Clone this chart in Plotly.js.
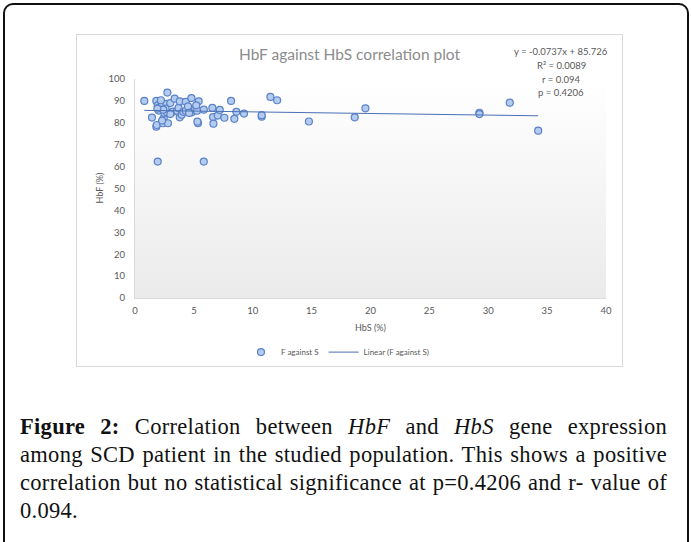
<!DOCTYPE html>
<html>
<head>
<meta charset="utf-8">
<script src="https://cdn.plot.ly/plotly-3.0.1.min.js"></script>
<style>
  html, body { margin: 0; padding: 0; background: #ffffff; width: 691px; height: 542px; overflow: hidden; }
  #frame { position: absolute; left: 3px; top: 3px; width: 682px; height: 600px; border: 2px solid #111; border-radius: 10px; }
  #box { position: absolute; left: 76px; top: 34px; width: 547px; height: 333px; border: 1px solid #d9d9d9; background: #fff; box-sizing: border-box; }
  #chart { position: absolute; left: 0; top: 0; width: 545px; height: 331px; }
  #caption { position: absolute; left: 20px; top: 413px; width: 647px; font-family: "Liberation Serif", "DejaVu Serif", serif; font-size: 22.5px; letter-spacing: 0.3px; line-height: 28px; color: #111; }
  #caption .j { text-align: justify; text-align-last: justify; white-space: nowrap; }
</style>
</head>
<body>
<div id="frame"></div>
<div id="box"><div id="chart"></div></div>
<div id="caption">
  <div class="j"><b>Figure 2:</b> Correlation between <i>HbF</i> and <i>HbS</i> gene expression</div>
  <div class="j">among SCD patient in the studied population. This shows a positive</div>
  <div class="j">correlation but no statistical significance at p=0.4206 and r- value of</div>
  <div>0.094.</div>
</div>
<script>
// HbS (%) values of each patient
const hbs = [0.79, 1.44, 1.81, 1.85, 1.93, 1.81, 1.93, 2.01, 2.05, 2.29,
             2.38, 2.44, 2.50, 2.66, 2.72, 2.75, 2.80, 2.60, 2.20, 3.00,
             3.23, 3.37, 3.57, 3.70, 3.80, 3.80, 3.97, 4.10, 4.31, 4.31,
             4.50, 4.79, 4.82, 5.10, 5.27, 5.35, 5.30, 5.41, 5.20, 5.84,
             5.84, 6.57, 6.63, 6.66, 7.03, 7.20, 7.59, 8.16, 8.44, 8.61,
             9.26, 10.76, 10.76, 11.50, 12.07, 14.77, 18.66, 19.57, 29.25, 29.25,
             31.83, 34.24, 3.00, 2.40, 4.60, 1.90, 2.30];
// HbF (%) values of each patient
const hbf = [90.0, 82.4, 78.2, 79.0, 62.3, 90.0, 88.0, 85.6, 87.0, 89.0,
             79.8, 82.2, 84.5, 88.6, 84.8, 93.8, 79.8, 86.5, 90.3, 89.0,
             85.1, 91.0, 85.5, 86.8, 89.8, 82.5, 83.7, 85.0, 89.6, 85.5,
             87.5, 91.3, 84.8, 86.0, 85.5, 79.8, 80.5, 89.8, 88.0, 86.0,
             62.3, 86.8, 82.6, 79.6, 83.3, 85.9, 82.3, 90.0, 81.8, 85.0,
             84.2, 82.8, 83.5, 91.8, 90.3, 80.6, 82.5, 86.6, 84.6, 84.0,
             89.2, 76.4, 84.0, 86.0, 84.5, 86.5, 81.0];
// Linear trendline as reported on the chart
const trendSlope = -0.0737;
const trendIntercept = 85.726;
const statLines = ["y = -0.0737x + 85.726", "R\u00b2 = 0.0089", "r = 0.094", "p = 0.4206"];
const xTicks = [0, 5, 10, 15, 20, 25, 30, 35, 40];
const yTicks = [0, 10, 20, 30, 40, 50, 60, 70, 80, 90, 100];
const xTitle = 'HbS (%)';
const yTitle = 'HbF (%)';

const xLo = Math.min(...hbs), xHi = Math.max(...hbs);
const trendX = [xLo, xHi];
const trendY = trendX.map(v => trendSlope * v + trendIntercept);

const font = "Lato, 'Open Sans', sans-serif";
const grad = "data:image/svg+xml;base64," + btoa(
  '<svg xmlns="http://www.w3.org/2000/svg" width="100" height="100" preserveAspectRatio="none">' +
  '<defs><linearGradient id="g" x1="0" y1="0" x2="0" y2="1">' +
  '<stop offset="0" stop-color="#ffffff"/><stop offset="1" stop-color="#ebebeb"/></linearGradient></defs>' +
  '<rect width="100" height="100" fill="url(#g)"/></svg>');

const traces = [
  { type: 'scatter', mode: 'markers', name: 'F against S', x: hbs, y: hbf,
    marker: { symbol: 'circle', size: 7, color: '#b2cbee', line: { color: '#5b82c8', width: 1.2 } },
    cliponaxis: false },
  { type: 'scatter', mode: 'lines', name: 'Linear (F against S)', x: trendX, y: trendY,
    line: { color: '#4a70b5', width: 1 } }
];

// plot area: 471 x 219 px, top-left at (58, 44) in the chart div
const PW = 471, PH = 219;
const ann = statLines.map((t, i) => ({
  text: t, xref: 'paper', yref: 'paper', x: 0.905, y: 1 + (27 - i * 13.5) / PH,
  xanchor: 'center', yanchor: 'middle', showarrow: false,
  font: { family: font, size: 9.5, color: '#595959' }
}));
ann.push({ text: xTitle, xref: 'paper', yref: 'paper', x: 0.5, y: -29.5 / PH,
  xanchor: 'center', yanchor: 'middle', showarrow: false,
  font: { family: font, size: 9, color: '#595959' } });
ann.push({ text: yTitle, xref: 'paper', yref: 'paper', x: -36 / PW, y: 0.5, textangle: -90,
  xanchor: 'center', yanchor: 'middle', showarrow: false,
  font: { family: font, size: 9, color: '#595959' } });

const layout = {
  width: 545, height: 331,
  margin: { l: 58, r: 16, t: 44, b: 68 },
  paper_bgcolor: 'rgba(0,0,0,0)', plot_bgcolor: 'rgba(0,0,0,0)',
  font: { family: font, size: 9, color: '#595959' },
  title: { text: 'HbF against HbS correlation plot', x: 0.5, xanchor: 'center', y: 0.94, yanchor: 'middle',
           font: { family: font, size: 15.5, color: '#8c8c8c' } },
  xaxis: { range: [0, 40], tickvals: xTicks, ticktext: xTicks.map(String), showgrid: false, zeroline: false,
           showline: true, linecolor: '#d9d9d9', linewidth: 1, ticks: '', ticklen: 0, ticklabelstandoff: 4,
           automargin: false,
           tickfont: { family: font, size: 9.5, color: '#595959' } },
  yaxis: { range: [0, 100], tickvals: yTicks, ticktext: yTicks.map(String), showgrid: false, zeroline: false,
           showline: true, linecolor: '#d9d9d9', linewidth: 1, ticks: '', ticklen: 0, ticklabelstandoff: 7,
           automargin: false,
           tickfont: { family: font, size: 9.5, color: '#595959' } },
  showlegend: true,
  legend: { orientation: 'h', xref: 'container', yref: 'container', x: 0.478, xanchor: 'center', y: 0.042, yanchor: 'middle',
            itemwidth: 30, font: { family: font, size: 8, color: '#595959' }, bgcolor: 'rgba(0,0,0,0)' },
  annotations: ann,
  images: [{ source: grad, xref: 'paper', yref: 'paper', x: 0, y: 1, sizex: 1, sizey: 1,
             sizing: 'stretch', layer: 'below', xanchor: 'left', yanchor: 'top' }]
};

Plotly.newPlot('chart', traces, layout, { staticPlot: true, displayModeBar: false });
</script>
</body>
</html>
